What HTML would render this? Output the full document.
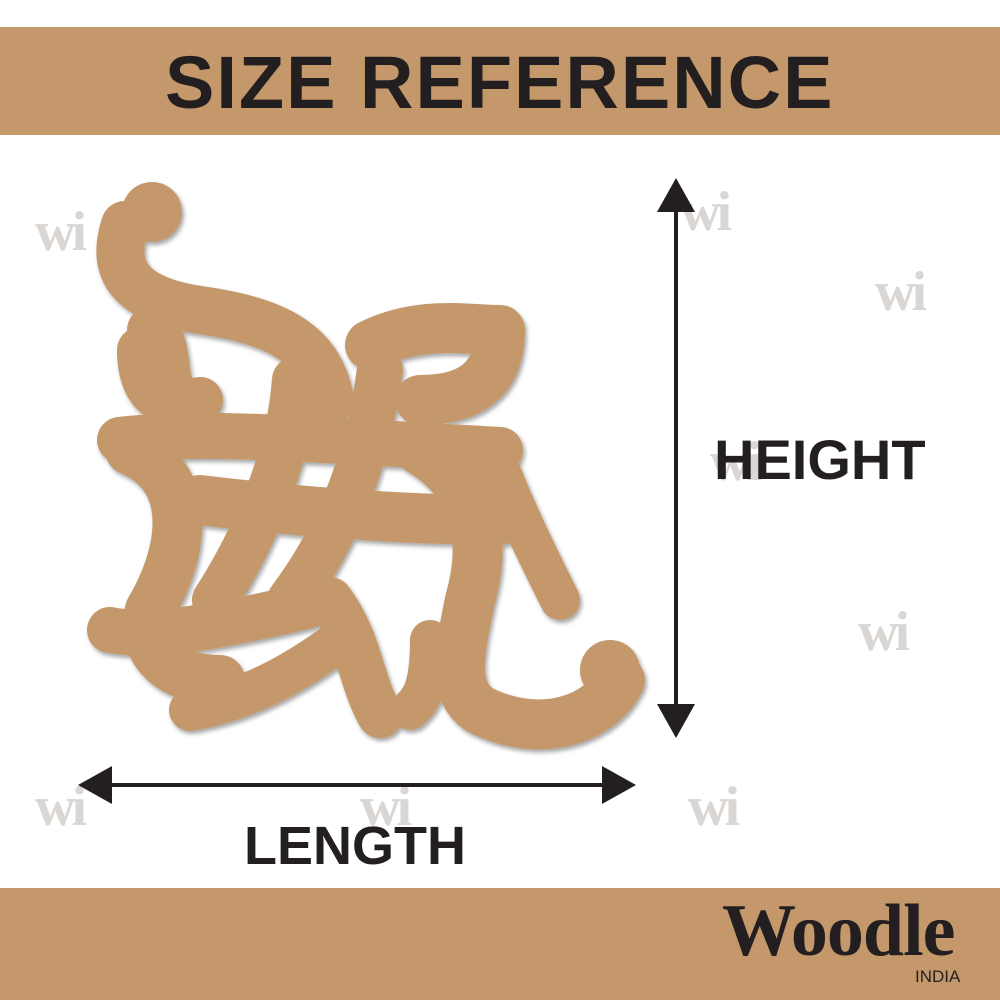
<!DOCTYPE html>
<html><head><style>
body{margin:0;width:1000px;height:1000px;background:#fff;position:relative;overflow:hidden;font-family:"Liberation Sans",sans-serif}
.band{position:absolute;left:0;width:1000px;background:#C4986A}
.t{position:absolute;color:#231f20;font-weight:bold;white-space:nowrap}
.wm{position:absolute;color:#d9d6d3;font-family:"Liberation Serif",serif;font-weight:bold;font-size:56px;letter-spacing:-4px}
</style></head><body>
<div class="band" style="top:27px;height:108px"></div>
<div class="t" style="left:165px;top:40px;font-size:74px;letter-spacing:2px">SIZE REFERENCE</div>
<div class="band" style="top:888px;height:112px"></div>
<div class="t" style="left:722px;top:889px;font-family:'Liberation Serif',serif;font-size:74px;letter-spacing:-1px">Woodle</div>
<div class="t" style="left:915px;top:967px;font-size:17px;font-weight:normal">INDIA</div>

<div class="wm" style="left:35px;top:200px">wi</div>
<div class="wm" style="left:680px;top:180px">wi</div>
<div class="wm" style="left:875px;top:260px">wi</div>
<div class="wm" style="left:710px;top:430px">wi</div>
<div class="wm" style="left:858px;top:600px">wi</div>
<div class="wm" style="left:35px;top:775px">wi</div>
<div class="wm" style="left:360px;top:775px">wi</div>
<div class="wm" style="left:688px;top:775px">wi</div>

<svg width="1000" height="1000" style="position:absolute;left:0;top:0">
<defs><filter id="s"><feDropShadow dx="2" dy="3" stdDeviation="2" flood-opacity="0.35"/></filter></defs>
<g filter="url(#s)" fill="none" stroke="#C4986A" stroke-linecap="round" stroke-linejoin="round">
 <circle cx="152" cy="212" r="30" fill="#C4986A" stroke="none"/>
 <path d="M125,225 C110,270 130,300 200,310 C270,320 320,340 330,400" stroke-width="48"/>
 <path d="M150,330 C180,340 150,410 200,400 M140,350 C140,400 170,410 200,400" stroke-width="46"/>
 <path d="M370,345 C420,320 470,330 500,330 C500,380 470,400 420,400" stroke-width="50"/>
 <path d="M120,440 C200,430 320,440 500,450" stroke-width="46"/>
 <path d="M200,500 C280,510 400,520 500,520" stroke-width="50"/>
 <path d="M295,380 C290,450 260,530 215,600" stroke-width="46"/>
 <path d="M380,370 C370,440 350,520 290,600" stroke-width="46"/>
 <path d="M130,450 C200,480 180,560 150,610 C140,650 170,680 220,680" stroke-width="50"/>
 <path d="M110,630 C160,640 250,620 330,600 C360,640 360,680 380,715" stroke-width="46"/>
 <path d="M190,710 C250,700 300,670 340,640" stroke-width="42"/>
 <path d="M420,450 C470,480 490,530 470,600 C460,650 450,690 480,710 C540,740 600,720 620,680" stroke-width="50"/>
 <path d="M430,640 C430,690 420,700 410,710" stroke-width="40"/>
 <circle cx="610" cy="670" r="30" fill="#C4986A" stroke="none"/>
 <path d="M500,470 C520,520 540,560 560,600" stroke-width="40"/>
</g>
<g stroke="#231f20" stroke-width="4" fill="#231f20">
 <line x1="676" y1="200" x2="676" y2="716"/>
 <polygon points="676,178 657,212 695,212" stroke="none"/>
 <polygon points="676,738 657,704 695,704" stroke="none"/>
 <line x1="100" y1="785" x2="614" y2="785"/>
 <polygon points="78,785 112,766 112,804" stroke="none"/>
 <polygon points="636,785 602,766 602,804" stroke="none"/>
</g>
</svg>
<div class="t" style="left:714px;top:427px;font-size:56px">HEIGHT</div>
<div class="t" style="left:244px;top:815px;font-size:54px">LENGTH</div>
</body></html>
